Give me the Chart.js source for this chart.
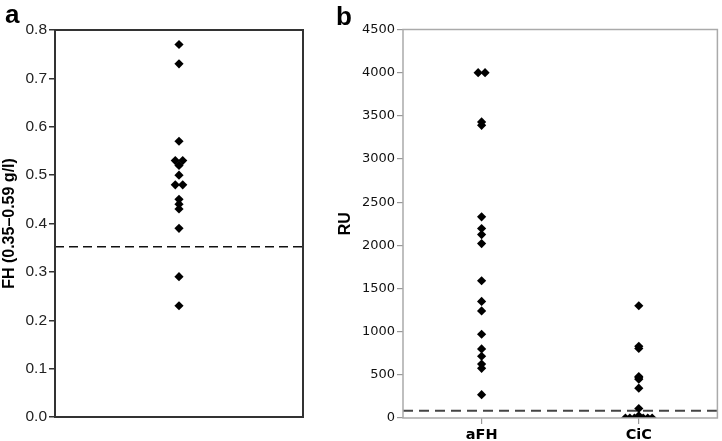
<!DOCTYPE html>
<html>
<head>
<meta charset="utf-8">
<script src="https://cdn.jsdelivr.net/npm/chart.js@4/dist/chart.umd.min.js"></script>
<style>
  html, body { margin: 0; padding: 0; background: #fff; }
  #wrap { position: relative; width: 722px; height: 441px; overflow: hidden; background: #fff; }
  #ca { position: absolute; left: 0; top: 0; }
  #cb { position: absolute; left: 320px; top: 0; }
  .plabel { position: absolute; font-family: "Liberation Sans", Arial, sans-serif; font-weight: bold; font-size: 26px; line-height: 26px; color: #000; }
</style>
</head>
<body>
<div id="wrap">
  <canvas id="ca" width="310" height="441"></canvas>
  <canvas id="cb" width="402" height="441"></canvas>
  <div class="plabel" style="left:5px; top:1px;">a</div>
  <div class="plabel" style="left:336px; top:3px;">b</div>
</div>
<script>
// ---------- Panel a data ----------
const fhValues = [0.77, 0.73, 0.57, 0.53, 0.53, 0.52, 0.50, 0.48, 0.48, 0.45, 0.44, 0.43, 0.39, 0.29, 0.23];
const fhJitter = [0, 0, 0, -0.03, 0.03, 0, 0, -0.03, 0.03, 0, 0, 0, 0, 0, 0];
const fhThreshold = 0.352;
const fhTitle = "FH (0.35\u20130.59 g/l)";

// ---------- Panel b data ----------
const ruCategories = ["aFH", "CiC"];
const afhValues = [4000, 4000, 3430, 3390, 2330, 2195, 2125, 2020, 1590, 1350, 1240, 970, 800, 715, 625, 575, 270];
const afhJitter = [-0.022, 0.022, 0, 0, 0, 0, 0, 0, 0, 0, 0, 0, 0, 0, 0, 0, 0];
const cicValues = [1300, 830, 805, 480, 465, 450, 345, 110, 25, 0, 0, 0, 0, 0, 0, 0, 0];
const cicJitter = [0, 0, 0, 0, 0, 0, 0, 0, 0, -0.085, -0.057, -0.028, 0, 0.028, 0.057, 0.085, 0];
const ruThreshold = 85;
const ruTitle = "RU";

function framePlugin(color, width) {
  return {
    id: 'frame',
    afterDatasetsDraw(chart) {
      const a = chart.chartArea, ctx = chart.ctx;
      ctx.save();
      ctx.strokeStyle = color;
      ctx.lineWidth = width;
      ctx.strokeRect(a.left, a.top, a.right - a.left, a.bottom - a.top);
      ctx.restore();
    }
  };
}

// ---------- Chart a ----------
new Chart(document.getElementById('ca'), {
  type: 'scatter',
  data: {
    datasets: [
      {
        data: fhValues.map((v, i) => ({ x: 1 + fhJitter[i], y: v })),
        pointStyle: 'rectRot', pointRadius: 4.6, pointBackgroundColor: '#000', pointBorderColor: '#000', pointBorderWidth: 0,
        order: 0
      },
      {
        type: 'line',
        data: [{ x: 0, y: fhThreshold }, { x: 2, y: fhThreshold }],
        borderColor: '#111', borderWidth: 1.5, borderDash: [9, 5], pointRadius: 0, fill: false,
        order: 1
      }
    ]
  },
  options: {
    responsive: false, animation: false, devicePixelRatio: 1,
    layout: { padding: { top: 30, right: 7, bottom: 24, left: 0 } },
    plugins: { legend: { display: false }, tooltip: { enabled: false } },
    scales: {
      x: { type: 'linear', min: 0, max: 2, display: false },
      y: {
        min: 0, max: 0.8,
        afterFit(s) { s.width = 55; },
        ticks: { stepSize: 0.1, padding: 2, color: '#222',
          font: { family: '"Liberation Sans", Arial, sans-serif', size: 15.5 },
          callback: v => Number(v).toFixed(1) },
        grid: { drawOnChartArea: false, drawTicks: true, tickLength: 6, color: '#333', lineWidth: 1.5 },
        border: { display: false },
        title: { display: true, text: fhTitle, color: '#000', padding: { top: 0, bottom: 0 },
          font: { family: '"Liberation Sans", Arial, sans-serif', size: 16, weight: 'bold' } }
      }
    }
  },
  plugins: [framePlugin('#333', 2)]
});

// ---------- Chart b ----------
new Chart(document.getElementById('cb'), {
  type: 'scatter',
  data: {
    datasets: [
      {
        data: afhValues.map((v, i) => ({ x: 0.5 + afhJitter[i], y: v })),
        pointStyle: 'rectRot', pointRadius: 4.6, pointBackgroundColor: '#000', pointBorderColor: '#000', pointBorderWidth: 0,
        clip: 0, order: 0
      },
      {
        data: cicValues.map((v, i) => ({ x: 1.5 + cicJitter[i], y: v })),
        pointStyle: 'rectRot', pointRadius: 4.6, pointBackgroundColor: '#000', pointBorderColor: '#000', pointBorderWidth: 0,
        clip: 0, order: 0
      },
      {
        type: 'line',
        data: [{ x: 0, y: ruThreshold }, { x: 2, y: ruThreshold }],
        borderColor: '#444', borderWidth: 2, borderDash: [10, 6], pointRadius: 0, fill: false,
        order: 1
      }
    ]
  },
  options: {
    responsive: false, animation: false, devicePixelRatio: 1,
    layout: { padding: { top: 29.5, right: 2, bottom: 0, left: 0 } },
    plugins: { legend: { display: false }, tooltip: { enabled: false } },
    scales: {
      x: {
        type: 'linear', min: 0, max: 2,
        afterFit(s) { s.height = 23; },
        afterBuildTicks(s) { s.ticks = ruCategories.map((c, i) => ({ value: 0.5 + i })); },
        ticks: { padding: 3, color: '#000', autoSkip: false, maxRotation: 0,
          font: { family: '"DejaVu Sans", sans-serif', size: 14.5, weight: 'bold' },
          callback: (v, i) => ruCategories[i] },
        grid: { drawOnChartArea: false, drawTicks: true, tickLength: 6, color: '#999', lineWidth: 1.2 },
        border: { display: false }
      },
      y: {
        min: 0, max: 4500,
        afterFit(s) { s.width = 83; },
        ticks: { stepSize: 500, padding: 2, color: '#111',
          font: { family: '"DejaVu Sans", sans-serif', size: 13 },
          callback: v => String(v) },
        grid: { drawOnChartArea: false, drawTicks: true, tickLength: 6, color: '#999', lineWidth: 1.2 },
        border: { display: false },
        title: { display: true, text: ruTitle, color: '#000', padding: { top: 16, bottom: 0 },
          font: { family: '"Liberation Sans", Arial, sans-serif', size: 16, weight: 'bold' } }
      }
    }
  },
  plugins: [framePlugin('#aaa', 1.5)]
});
</script>
</body>
</html>
